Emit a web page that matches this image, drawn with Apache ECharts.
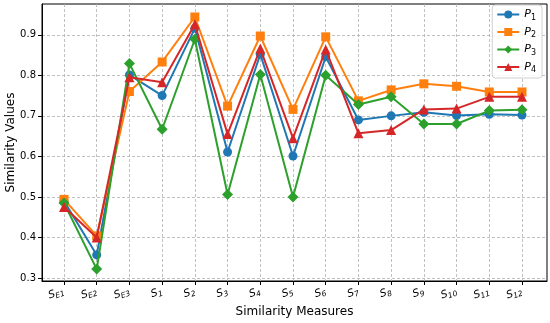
<!DOCTYPE html>
<html>
<head>
<meta charset="utf-8">
<script src="https://cdn.jsdelivr.net/npm/echarts@6/dist/echarts.min.js"></script>
<style>html,body{margin:0;padding:0;background:#fff}#c{width:550px;height:323px}</style>
</head>
<body>
<div id="c"></div>
<script>
const categories = ['E1','E2','E3','1','2','3','4','5','6','7','8','9','10','11','12'];
const seriesNames = ['1','2','3','4'];
const P1 = [0.490,0.357,0.801,0.750,0.916,0.611,0.852,0.601,0.846,0.690,0.700,0.709,0.701,0.704,0.702];
const P2 = [0.494,0.404,0.760,0.833,0.944,0.724,0.897,0.716,0.895,0.737,0.764,0.779,0.773,0.759,0.759];
const P3 = [0.485,0.322,0.829,0.667,0.889,0.506,0.802,0.500,0.800,0.728,0.747,0.680,0.680,0.713,0.715];
const P4 = [0.475,0.400,0.795,0.783,0.926,0.655,0.866,0.645,0.864,0.657,0.665,0.716,0.718,0.747,0.747];
const yTicks = [0.3,0.4,0.5,0.6,0.7,0.8,0.9];

const colors = ['#1f77b4','#ff7f0e','#2ca02c','#d62728'];
const symbols = ['circle','rect','diamond','triangle'];
const sizes = [9,9,11,10];
const allData = [P1,P2,P3,P4];

const chart = echarts.init(document.getElementById('c'), null, {renderer:'canvas'});
const font = 'DejaVu Sans';
const yMin = 0.2926, yMax = 0.976;
chart.setOption({
  animation:false,
  backgroundColor:'#fff',
  grid:[
    {left:42,right:3,top:4,bottom:42,show:true,borderColor:'#000',borderWidth:1,backgroundColor:'transparent',outerBoundsMode:'none',containLabel:false},
    {left:64,right:28,top:4,bottom:42,outerBoundsMode:'none',containLabel:false}
  ],
  legend:{
    right:8, top:5, orient:'vertical', itemWidth:22, itemHeight:10, itemGap:5,
    padding:[4,6,4,4],
    borderColor:'#d0d0d0', borderWidth:1, borderRadius:3, backgroundColor:'rgba(255,255,255,0.85)',
    data: seriesNames.map(n=>'P'+n),
    formatter: n => '{p|P}{s|' + n.slice(1) + '}',
    textStyle:{
      rich:{
        p:{fontFamily:font,fontStyle:'italic',fontSize:11,color:'#000'},
        s:{fontFamily:font,fontSize:8,color:'#000',padding:[6,0,0,0]}
      }
    }
  },
  xAxis:[
    {
      gridIndex:0, type:'value', min:0, max:1,
      name:'Similarity Measures', nameLocation:'middle', nameGap:25, nameMoveOverlap:false,
      nameTextStyle:{fontFamily:font,fontSize:12,color:'#000'},
      axisLine:{show:true,lineStyle:{color:'#000',width:1}},
      axisTick:{show:false}, axisLabel:{show:false}, splitLine:{show:false}
    },
    {
      gridIndex:1, type:'category', data:categories, boundaryGap:false,
      axisLine:{show:false},
      axisTick:{show:true,length:4,lineStyle:{color:'#000'},alignWithLabel:true},
      axisLabel:{
        interval:0, rotate:18, margin:10, color:'#000',
        formatter: v => '{s|S}{sub|' + v + '}',
        rich:{
          s:{fontFamily:font,fontStyle:'italic',fontSize:10.5,color:'#000'},
          sub:{fontFamily:font,fontStyle:'italic',fontSize:7.5,color:'#000',padding:[5,0,0,0]}
        }
      },
      splitLine:{show:true,interval:0,lineStyle:{color:'#b0b0b0',type:[3,2],width:0.8}}
    }
  ],
  yAxis:[
    {
      gridIndex:0, type:'value', min:yMin, max:yMax,
      name:'Similarity Values', nameLocation:'middle', nameGap:25, nameMoveOverlap:false,
      nameTextStyle:{fontFamily:font,fontSize:12,color:'#000'},
      axisLine:{show:true,lineStyle:{color:'#000',width:1}},
      axisTick:{show:true,length:4,lineStyle:{color:'#000'},customValues:yTicks},
      axisLabel:{customValues:yTicks,fontFamily:font,fontSize:10,color:'#000',margin:6,
        formatter:v=>v.toFixed(1)},
      splitLine:{show:true,lineStyle:{color:'#b0b0b0',type:[3,2],width:0.8}}
    },
    {
      gridIndex:1, type:'value', min:yMin, max:yMax,
      axisLine:{show:false}, axisTick:{show:false}, axisLabel:{show:false}, splitLine:{show:false}
    }
  ],
  series: allData.map((d,k)=>({
    name:'P'+seriesNames[k], type:'line', xAxisIndex:1, yAxisIndex:1,
    data: d,
    symbol:symbols[k], symbolSize:sizes[k],
    lineStyle:{color:colors[k],width:2},
    itemStyle:{color:colors[k]},
    z:2+k
  }))
});
</script>
</body>
</html>
